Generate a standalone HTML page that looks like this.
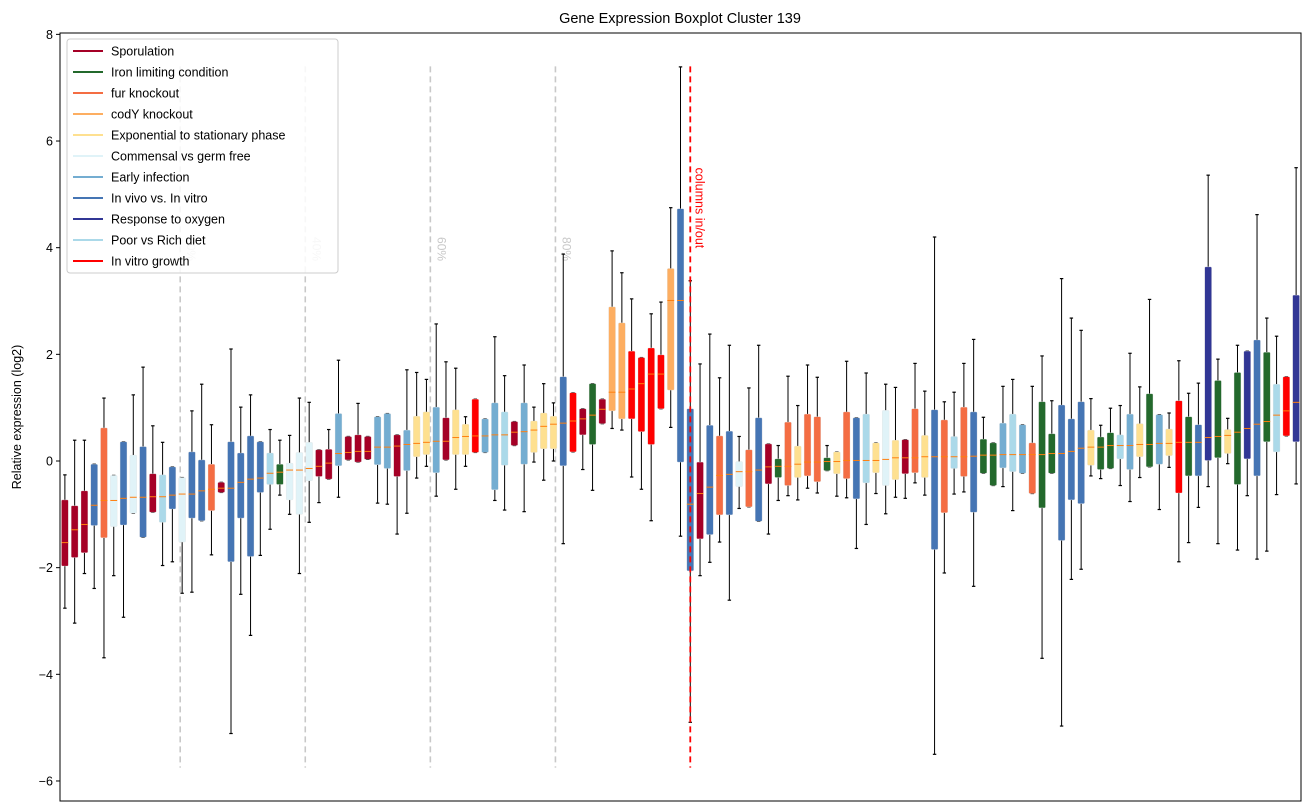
<!DOCTYPE html>
<html><head><meta charset="utf-8"><title>Gene Expression Boxplot Cluster 139</title>
<style>
html,body{margin:0;padding:0;background:#fff;}
svg{display:block;font-family:"Liberation Sans","DejaVu Sans",sans-serif;}
</style></head>
<body>
<svg id="chart" width="1309" height="812" viewBox="0 0 1309 812" xmlns="http://www.w3.org/2000/svg">
<rect x="0" y="0" width="1309" height="812" fill="#fff"/>
<text x="680" y="23" font-size="14.5" text-anchor="middle" fill="#000">Gene Expression Boxplot Cluster 139</text>
<text transform="translate(21,417) rotate(-90)" font-size="12.5" text-anchor="middle" fill="#000">Relative expression (log2)</text>
<g id="plot"></g>
</svg>
<script>
const groups = ["S","S","S","V","F","M","V","M","V","S","P","V","M","V","V","F","S","V","V","V","V","P","I","M","M","M","S","S","A","S","S","S","A","A","S","A","E","E","A","S","E","E","G","A","A","P","S","A","E","E","E","V","G","S","I","S","C","C","G","G","G","G","C","V","V","S","V","F","V","M","F","V","S","I","F","E","F","F","I","E","F","V","P","E","M","E","S","F","E","V","F","P","F","V","I","I","A","P","A","F","I","I","V","V","V","E","I","I","P","A","E","I","A","E","G","I","V","O","I","E","I","O","V","I","P","G","O"];
const whislo = [-2.76,-3.04,-2.11,-2.39,-3.69,-2.15,-2.93,-0.98,-1.43,-0.96,-1.96,-1.89,-2.48,-2.46,-1.12,-1.76,-0.59,-5.11,-2.50,-3.27,-1.77,-1.28,-0.64,-1.0,-2.11,-1.15,-0.78,-0.34,-0.68,0.02,-0.02,0.03,-0.79,-0.81,-1.37,-0.98,-0.32,-0.10,-0.66,0.02,-0.53,-0.10,0.16,0.16,-0.74,-0.92,0.29,-0.95,-0.02,-0.36,0.0,-1.55,0.17,-0.16,-0.55,0.70,0.61,0.58,-0.30,-0.53,-1.12,0.98,0.63,-1.41,-4.9,-2.15,-1.90,-1.52,-2.61,-0.89,-0.86,-1.13,-1.37,-0.74,-0.65,-0.73,-0.51,-0.60,-0.18,-0.66,-0.69,-1.64,-1.19,-0.61,-0.99,-0.68,-0.70,-0.41,-0.64,-5.5,-2.1,-0.62,-0.58,-2.35,-0.23,-0.46,-0.48,-0.93,-0.23,-0.61,-3.7,-0.23,-4.97,-2.22,-2.03,-0.28,-0.33,-0.14,-0.46,-0.76,-0.31,-0.11,-0.91,-0.12,-1.89,-1.53,-0.87,-0.48,-1.55,-0.05,-1.67,-0.65,-1.84,-1.69,-0.63,0.47,-0.43];
const q1 = [-1.97,-1.81,-1.72,-1.21,-1.44,-1.23,-1.2,-0.98,-1.43,-0.96,-1.15,-0.90,-1.52,-1.07,-1.12,-0.93,-0.59,-1.89,-1.07,-1.79,-0.59,-0.44,-0.44,-0.73,-1.0,-0.37,-0.29,-0.34,-0.09,0.02,-0.02,0.03,-0.07,-0.14,-0.29,-0.18,0.08,0.12,-0.22,0.02,0.12,0.12,0.16,0.16,-0.54,-0.08,0.29,-0.06,0.16,0.23,0.23,-0.09,0.17,0.49,0.31,0.70,0.94,0.79,0.79,0.55,0.31,0.98,1.33,-0.02,-2.06,-1.46,-1.38,-1.01,-1.01,-0.48,-0.86,-1.13,-0.43,-0.31,-0.46,-0.31,-0.28,-0.39,-0.18,-0.24,-0.33,-0.71,-0.41,-0.22,-0.46,-0.35,-0.24,-0.22,-0.31,-1.66,-0.97,-0.14,-0.29,-0.96,-0.23,-0.46,-0.13,-0.20,-0.23,-0.61,-0.88,-0.23,-1.49,-0.73,-0.80,-0.08,-0.16,-0.14,0.04,-0.16,0.08,-0.11,-0.06,0.10,-0.60,-0.28,-0.28,0.01,0.06,0.14,-0.44,0.04,-0.28,0.36,0.17,0.47,0.36];
const med = [-1.53,-1.29,-1.19,-0.83,-0.74,-0.74,-0.70,-0.68,-0.68,-0.67,-0.67,-0.64,-0.62,-0.62,-0.56,-0.53,-0.51,-0.51,-0.40,-0.34,-0.32,-0.23,-0.21,-0.17,-0.17,-0.14,-0.10,-0.04,0.14,0.16,0.18,0.18,0.26,0.26,0.28,0.31,0.33,0.35,0.37,0.37,0.44,0.46,0.47,0.47,0.49,0.49,0.54,0.55,0.58,0.65,0.69,0.71,0.75,0.79,0.86,0.97,1.29,1.29,1.35,1.45,1.63,1.63,3.01,3.01,-0.81,-0.61,-0.49,-0.27,-0.25,-0.20,-0.20,-0.17,-0.11,-0.10,-0.10,-0.06,-0.02,-0.02,-0.01,-0.01,0.01,0.01,0.01,0.01,0.03,0.06,0.06,0.06,0.08,0.08,0.08,0.08,0.08,0.09,0.11,0.11,0.12,0.12,0.12,0.12,0.12,0.14,0.14,0.18,0.24,0.26,0.26,0.29,0.29,0.29,0.31,0.31,0.33,0.33,0.35,0.35,0.35,0.44,0.46,0.48,0.54,0.61,0.69,0.74,0.86,0.94,1.10];
const q3 = [-0.73,-0.84,-0.56,-0.06,0.62,-0.27,0.36,0.11,0.27,-0.24,-0.26,-0.11,-0.31,0.17,0.02,-0.06,-0.40,0.36,0.15,0.47,0.36,0.15,-0.06,-0.04,0.16,0.35,0.21,0.22,0.89,0.46,0.49,0.46,0.83,0.89,0.49,0.58,0.84,0.92,1.01,0.81,0.96,0.69,1.16,0.79,1.09,0.92,0.74,1.09,0.75,0.90,0.84,1.58,1.28,0.98,1.45,1.16,2.89,2.59,2.06,1.94,2.12,1.99,3.61,4.73,0.98,-0.02,0.67,0.47,0.56,-0.01,0.21,0.81,0.32,0.04,0.73,0.28,0.88,0.83,0.06,0.17,0.92,0.81,0.88,0.34,0.95,0.39,0.40,0.98,0.48,0.96,0.77,0.46,1.01,0.92,0.41,0.34,0.71,0.88,0.68,0.34,1.11,0.51,1.05,0.79,1.11,0.58,0.45,0.53,0.49,0.88,0.70,1.26,0.87,0.60,1.13,0.83,0.68,3.64,1.51,0.59,1.66,2.06,2.27,2.04,1.44,1.58,3.11];
const whishi = [-0.26,0.39,0.39,-0.06,1.18,-0.27,0.36,1.24,1.76,0.66,0.35,-0.11,-0.31,0.94,1.44,0.68,-0.40,2.10,1.01,1.24,0.36,0.59,0.39,0.48,1.18,1.10,0.21,0.59,1.89,0.46,1.08,0.46,0.83,0.89,0.49,1.71,1.66,1.53,2.57,1.86,1.74,0.83,1.16,0.79,2.33,1.60,0.74,1.80,1.01,1.45,1.09,3.88,1.28,0.98,1.45,1.16,3.94,3.53,3.04,1.94,2.76,2.98,4.75,7.39,3.38,1.82,2.38,1.56,2.17,0.46,1.37,2.17,0.32,0.29,1.59,1.04,1.80,1.57,0.29,0.17,1.87,0.81,1.65,0.34,1.44,1.38,0.40,1.83,1.31,4.2,1.11,1.29,1.83,2.28,0.82,0.34,1.40,1.53,0.68,1.40,1.97,1.13,3.42,2.68,2.45,1.17,0.67,0.99,1.04,2.02,1.39,3.03,0.87,0.90,1.88,1.27,1.46,5.36,1.91,0.80,2.17,2.06,4.62,2.68,2.34,1.58,5.5];
const legendLabels = ["Sporulation","Iron limiting condition","fur knockout","codY knockout","Exponential to stationary phase","Commensal vs germ free","Early infection","In vivo vs. In vitro","Response to oxygen","Poor vs Rich diet","In vitro growth"];
const legendKeys = ["S","I","F","C","E","M","A","V","O","P","G"];
const yTicks = [8,6,4,2,0,-2,-4,-6];
const pctLabels = ["20%","40%","60%","80%"];
const pctPos = [12.8,25.6,38.4,51.2];
const splitPos = 65;

const colors = {S:"#a50026",I:"#23692c",F:"#f46d43",C:"#fdae61",E:"#fee090",M:"#e0f3f8",A:"#74add1",V:"#4575b4",O:"#313695",P:"#abd9e9",G:"#ff0000"};
const N = groups.length;
const L = 60, R = 1301, T = 33, B = 801;
const step = (R - L) / N;
function xs(d){ return L + (d - 0.5) * step; }
function ys(v){ return 461 - v * 53.33; }
const NS = "http://www.w3.org/2000/svg";
const plot = document.getElementById('plot');
function mk(tag, attrs, parent){
  const e = document.createElementNS(NS, tag);
  for (const k in attrs) e.setAttribute(k, attrs[k]);
  (parent || plot).appendChild(e);
  return e;
}
// percentile lines
for (let k = 0; k < pctPos.length; k++){
  const x = xs(pctPos[k]);
  const ln = mk('line', {x1:x, x2:x, y1:ys(7.4), y2:ys(-5.75), stroke:"#c8c8c8", "stroke-width":1.6, "stroke-dasharray":"6,4"});
  
  
  const t = mk('text', {transform:`translate(${x+7},${ys(4.2)}) rotate(90)`, "font-size":12, fill:"#c8c8c8"});
  t.textContent = pctLabels[k];
  
  
}
// boxes
const bw = step * 0.7, cw = step * 0.35;
for (let i = 0; i < N; i++){
  const x = xs(i + 1);
  const g = mk('g', {});
  
  
  mk('line', {x1:x, x2:x, y1:ys(whishi[i]), y2:ys(q3[i]), stroke:"#000", "stroke-width":1}, g);
  mk('line', {x1:x, x2:x, y1:ys(q1[i]), y2:ys(whislo[i]), stroke:"#000", "stroke-width":1}, g);
  mk('line', {x1:x-cw/2, x2:x+cw/2, y1:ys(whishi[i]), y2:ys(whishi[i]), stroke:"#000", "stroke-width":1.2}, g);
  mk('line', {x1:x-cw/2, x2:x+cw/2, y1:ys(whislo[i]), y2:ys(whislo[i]), stroke:"#000", "stroke-width":1.2}, g);
  mk('rect', {x:x-bw/2, y:ys(q3[i]), width:bw, height:Math.max(1, ys(q1[i]) - ys(q3[i])), rx:1, fill:colors[groups[i]], stroke:"#ddd", "stroke-width":0.5, "stroke-opacity":0.6}, g);
  mk('line', {x1:x-bw/2, x2:x+bw/2, y1:ys(med[i]), y2:ys(med[i]), stroke:"#ff7f0e", "stroke-width":1}, g);
}
// split line
{
  const x = xs(splitPos);
  const ln = mk('line', {x1:x, x2:x, y1:ys(7.4), y2:ys(-5.75), stroke:"#ff0000", "stroke-width":1.8, "stroke-dasharray":"6,4"});
  
  
  const t = mk('text', {transform:`translate(${x+5},${ys(5.5)}) rotate(90)`, "font-size":12.5, fill:"#ff0000"});
  t.textContent = "columns in/out";
  
  
}
// axes frame
const fr = mk('rect', {x:L, y:T, width:R-L, height:B-T, fill:"none", stroke:"#000", "stroke-width":1});


for (const v of yTicks){
  const y = ys(v);
  mk('line', {x1:L-4, x2:L, y1:y, y2:y, stroke:"#000", "stroke-width":1});
  const t = mk('text', {x:L-7, y:y+4.5, "font-size":12.5, "text-anchor":"end", fill:"#000"});
  t.textContent = v < 0 ? "\u2212" + Math.abs(v) : String(v);
  
  
}
// legend
const lg = mk('g', {});


mk('rect', {x:67, y:39, width:271, height:234, rx:3, fill:"#fff", "fill-opacity":0.85, stroke:"#ccc", "stroke-width":1}, lg);
for (let k = 0; k < legendLabels.length; k++){
  const y = 51 + k * 21;
  const e = mk('g', {}, lg);
  
  
  mk('line', {x1:73, x2:103, y1:y, y2:y, stroke:colors[legendKeys[k]], "stroke-width":2}, e);
  const t = mk('text', {x:111, y:y+4.5, "font-size":12.5, fill:"#000"}, e);
  t.textContent = legendLabels[k];
}
</script>
</body></html>
